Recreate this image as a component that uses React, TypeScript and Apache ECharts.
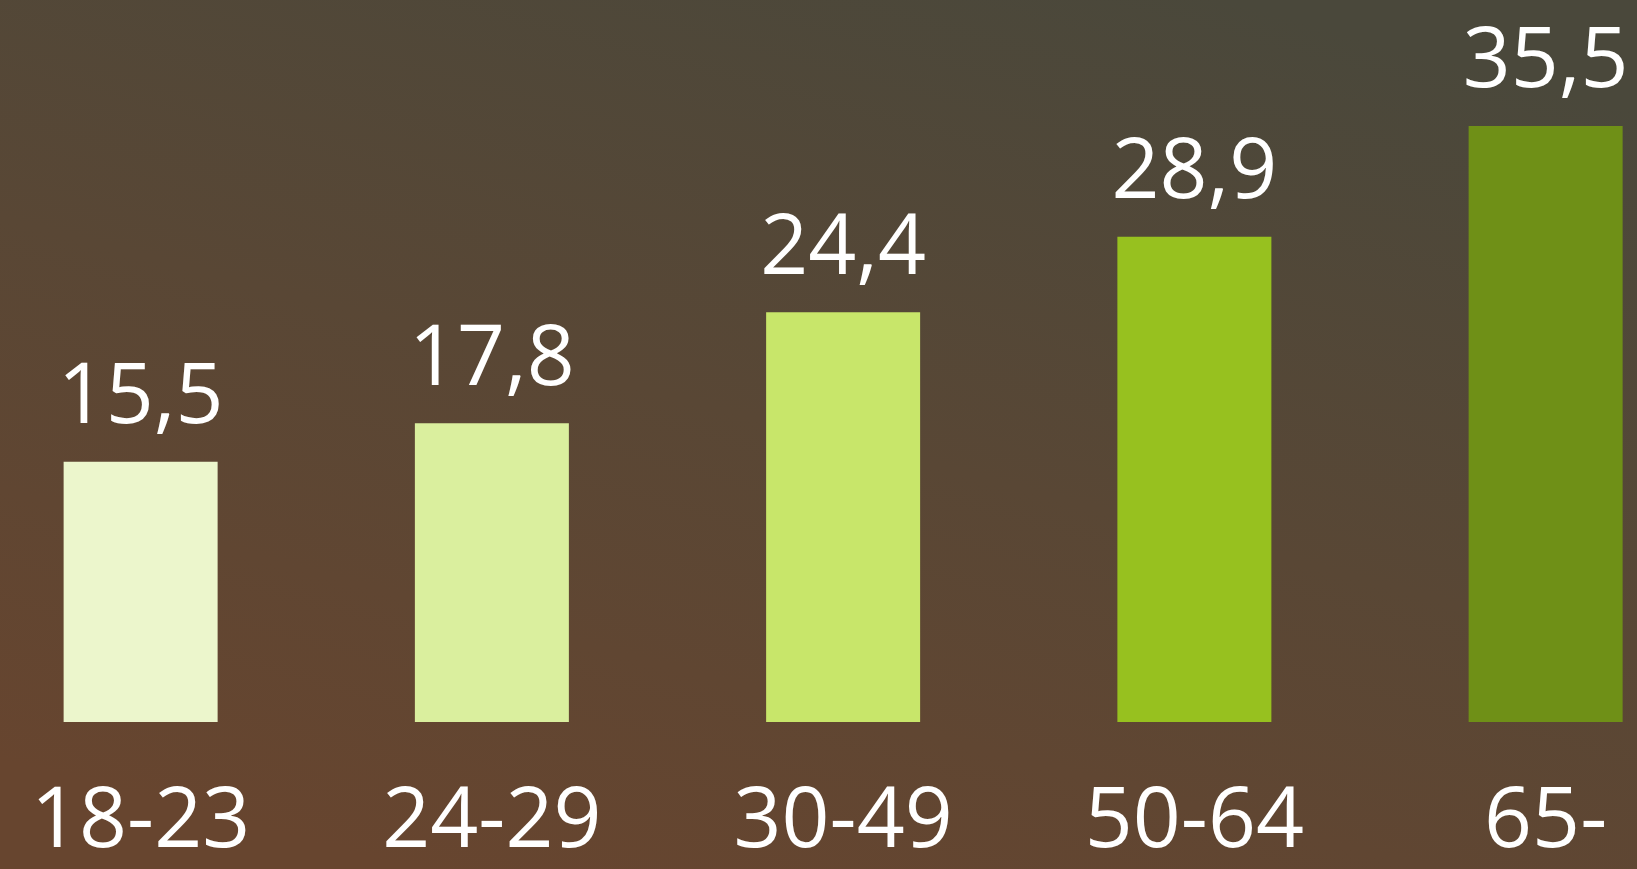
import React, { useEffect, useRef } from "react";
import * as echarts from "echarts";

const categories = ["18-23", "24-29", "30-49", "50-64", "65-"];
const values = [15.5, 17.8, 24.4, 28.9, 35.5];
const barColors = ["#ecf6cc", "#daef9e", "#c8e66a", "#97c11f", "#6f9017"];

export default function App() {
  const ref = useRef<HTMLDivElement>(null);
  useEffect(() => {
    document.body.style.margin = "0";
    const chart = echarts.init(ref.current!, null, { renderer: "svg" });
    chart.setOption({
      animation: false,
      backgroundColor: new echarts.graphic.LinearGradient(0.75, 0, 0.25, 1, [
        { offset: 0, color: "#4a483b" },
        { offset: 0.5, color: "#594735" },
        { offset: 1, color: "#67452f" },
      ]),
      grid: {
        left: -35,
        width: 1756.25,
        top: 50.4,
        bottom: 147,
        containLabel: false,
        outerBoundsMode: "none",
      },
      xAxis: {
        type: "category",
        data: categories,
        axisLine: { show: false },
        axisTick: { show: false },
        splitLine: { show: false },
        axisLabel: {
          color: "#ffffff",
          fontFamily: "Open Sans",
          fontSize: 84,
          lineHeight: 84,
          margin: 50,
          interval: 0,
        },
      },
      yAxis: {
        type: "value",
        min: 0,
        max: 40,
        show: false,
      },
      series: [
        {
          type: "bar",
          barWidth: 154,
          data: values.map((v, i) => ({ value: v, itemStyle: { color: barColors[i] } })),
          label: {
            show: true,
            position: "top",
            distance: 29,
            color: "#ffffff",
            fontFamily: "Open Sans",
            fontSize: 84,
            lineHeight: 84,
            formatter: (p: any) => String(p.value).replace(".", ","),
          },
        },
      ],
    });
    return () => chart.dispose();
  }, []);
  return (
    <div
      ref={ref}
      style={{ position: "fixed", left: 0, top: 0, width: 1637, height: 869 }}
    />
  );
}
